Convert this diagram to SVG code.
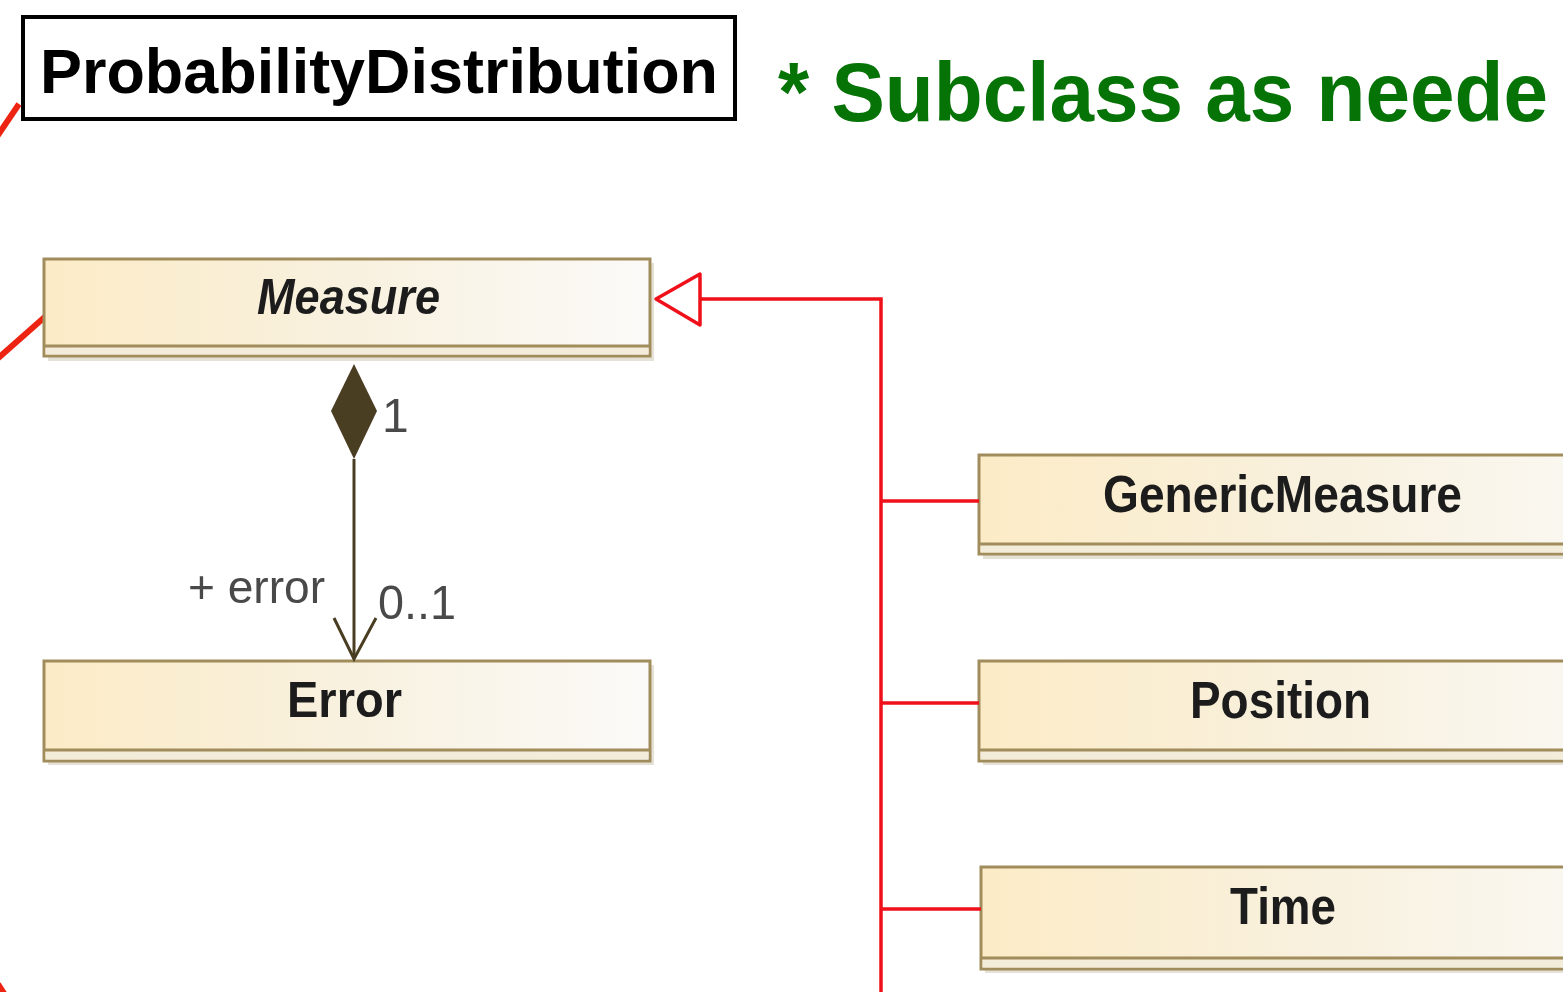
<svg xmlns="http://www.w3.org/2000/svg" width="1563" height="992" viewBox="0 0 1563 992">
  <defs>
    <linearGradient id="clsFill" x1="0" y1="0" x2="1" y2="0">
      <stop offset="0" stop-color="#FCEBC6"/>
      <stop offset="0.5" stop-color="#F8F1DF"/>
      <stop offset="1" stop-color="#FBFAF8"/>
    </linearGradient>
    <filter id="soft" x="-5%" y="-5%" width="110%" height="110%">
      <feGaussianBlur stdDeviation="0.7"/>
    </filter>
  </defs>
  <style>
    .frame { fill: #ffffff; stroke: #000000; stroke-width: 4; }
    .title { font-family: "Liberation Sans", Arial, sans-serif; font-weight: bold; fill: #000000; }
    .note { font-family: "Liberation Sans", Arial, sans-serif; font-weight: bold; fill: #067306; }
    .shadow { fill: #E6E1D6; }
    .box { fill: url(#clsFill); stroke: #A18C5C; stroke-width: 3; }
    .sep { stroke: #A18C5C; stroke-width: 3; }
    .foot { fill: #F3ECDA; }
    .name { font-family: "Liberation Sans", Arial, sans-serif; font-weight: bold; fill: #1E1E1E; }
    .label { font-family: "Liberation Sans", Arial, sans-serif; fill: #4A4A4A; }
    .gen { fill: none; stroke: #F0101A; stroke-width: 3.5; }
    .genhead { fill: #ffffff; stroke: #F0101A; stroke-width: 3.5; stroke-linejoin: round; }
    .comp { fill: none; stroke: #4A3C24; stroke-width: 3; }
    .link { fill: none; stroke: #EE2412; stroke-width: 6; }
  </style>

  <rect width="1563" height="992" fill="#ffffff"/>

  <!-- heading box -->
  <g id="probability-distribution">
    <rect class="frame" x="23" y="17" width="712" height="102"/>
    <text class="title" x="40" y="93" font-size="63" textLength="678" lengthAdjust="spacingAndGlyphs">ProbabilityDistribution</text>
  </g>

  <!-- side note -->
  <g id="subclass-note">
    <text class="note" transform="translate(778 121) scale(1 1.05)" x="0" y="0" font-size="80" textLength="770" lengthAdjust="spacingAndGlyphs">* Subclass as neede</text>
  </g>

  <!-- red links coming in from the left -->
  <g id="outer-links">
    <line class="link" x1="-4" y1="138" x2="19" y2="104"/>
    <line class="link" x1="47" y1="315" x2="-4" y2="360"/>
    <line class="link" x1="-2" y1="984" x2="5" y2="995"/>
  </g>

  <!-- class boxes -->
  <g id="measure" filter="url(#soft)">
    <rect class="shadow" x="48" y="263" width="606" height="98"/>
    <rect class="box" x="44" y="259" width="606" height="97"/>
    <rect class="foot" x="45.5" y="346" width="603" height="8.5"/>
    <line class="sep" x1="44" y1="346" x2="650" y2="346"/>
    <text class="name" x="257" y="314" font-size="50" font-style="italic" textLength="183" lengthAdjust="spacingAndGlyphs">Measure</text>
  </g>

  <g id="error" filter="url(#soft)">
    <rect class="shadow" x="48" y="665" width="606" height="100"/>
    <rect class="box" x="44" y="661" width="606" height="100"/>
    <rect class="foot" x="45.5" y="750" width="603" height="9.5"/>
    <line class="sep" x1="44" y1="750" x2="650" y2="750"/>
    <text class="name" x="287" y="717" font-size="50" textLength="115" lengthAdjust="spacingAndGlyphs">Error</text>
  </g>

  <g id="generic-measure" filter="url(#soft)">
    <rect class="shadow" x="983" y="459" width="700" height="100"/>
    <rect class="box" x="979" y="455" width="700" height="99"/>
    <rect class="foot" x="980.5" y="544" width="697" height="8.5"/>
    <line class="sep" x1="979" y1="544" x2="1679" y2="544"/>
    <text class="name" x="1103" y="512" font-size="52" textLength="359" lengthAdjust="spacingAndGlyphs">GenericMeasure</text>
  </g>

  <g id="position" filter="url(#soft)">
    <rect class="shadow" x="983" y="665" width="700" height="100"/>
    <rect class="box" x="979" y="661" width="700" height="100"/>
    <rect class="foot" x="980.5" y="750" width="697" height="9.5"/>
    <line class="sep" x1="979" y1="750" x2="1679" y2="750"/>
    <text class="name" x="1190" y="718" font-size="52" textLength="181" lengthAdjust="spacingAndGlyphs">Position</text>
  </g>

  <g id="time" filter="url(#soft)">
    <rect class="shadow" x="985" y="871" width="700" height="102"/>
    <rect class="box" x="981" y="867" width="700" height="102"/>
    <rect class="foot" x="982.5" y="958" width="697" height="9.5"/>
    <line class="sep" x1="981" y1="958" x2="1681" y2="958"/>
    <text class="name" x="1230" y="924" font-size="52" textLength="106" lengthAdjust="spacingAndGlyphs">Time</text>
  </g>

  <!-- connectors -->
  <g id="connectors">
    <!-- generalization tree into Measure -->
    <path class="gen" d="M 881 995 L 881 299 L 700 299"/>
    <line class="gen" x1="881" y1="501" x2="979" y2="501"/>
    <line class="gen" x1="881" y1="703" x2="979" y2="703"/>
    <line class="gen" x1="881" y1="909" x2="981" y2="909"/>
    <path class="genhead" d="M 656 299 L 700 274 L 700 325 Z"/>

    <!-- composition Measure -> Error -->
    <g filter="url(#soft)">
      <path d="M 354 364 L 377 411 L 354 459 L 331 411 Z" fill="#4A3C24"/>
      <line class="comp" x1="354" y1="459" x2="354" y2="659"/>
      <path class="comp" d="M 334 618 L 354 659 L 376 618"/>
      <text class="label" x="382" y="432" font-size="48">1</text>
      <text class="label" x="188" y="603" font-size="46" textLength="137" lengthAdjust="spacingAndGlyphs">+ error</text>
      <text class="label" x="378" y="619" font-size="48" textLength="78" lengthAdjust="spacingAndGlyphs">0..1</text>
    </g>
  </g>
</svg>
